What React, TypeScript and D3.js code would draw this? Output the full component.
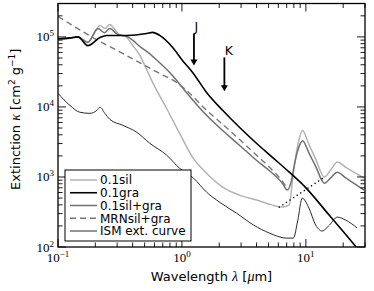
import React, { useEffect } from "react";
import * as d3 from "d3";

// ---------- data ----------
// 0.1gra (black)
const graWl = [0.1, 0.125, 0.145, 0.174, 0.218, 0.248, 0.359, 0.52, 0.58, 0.662, 0.842, 1.01, 1.22, 1.58, 2.13, 2.91, 3.99, 5.37, 7.35, 9.71, 15.4, 25.4, 32];
const graK = [9.4e4, 9.7e4, 1.0e5, 7.5e4, 9.8e4, 1.05e5, 1.05e5, 1.12e5, 1.16e5, 1.05e5, 7.06e4, 4.61e4, 3.11e4, 1.61e4, 8.95e3, 5.12e3, 3.03e3, 1.91e3, 1.17e3, 740, 286, 100, 60];

// 0.1sil (light grey)
const silWl = [0.1, 0.125, 0.145, 0.174, 0.2, 0.218, 0.239, 0.262, 0.285, 0.304, 0.359, 0.4, 0.457, 0.52, 0.58, 0.753, 0.958, 1.22, 1.58, 2.13, 2.91, 3.99, 5.37, 6.46, 7.35, 7.8, 8.3, 8.8, 9.4, 10.6, 12, 14.1, 16, 17.9, 21, 25, 29.5];
const silK = [9.4e4, 9.6e4, 1.0e5, 8.5e4, 1.2e5, 1.45e5, 1.32e5, 1.5e5, 1.3e5, 1.12e5, 9.8e4, 7.6e4, 5.5e4, 3.4e4, 2.24e4, 9.5e3, 4.2e3, 1.91e3, 1.13e3, 716, 551, 468, 396, 372, 400, 900, 2000, 3400, 4600, 2900, 1800, 993, 1290, 1630, 1370, 1146, 961];

// 0.1sil+gra (mid grey)
const mixWl = [0.1, 0.125, 0.145, 0.174, 0.21, 0.237, 0.262, 0.304, 0.359, 0.4, 0.457, 0.52, 0.6, 0.842, 1.09, 1.58, 2.13, 2.91, 3.99, 5.37, 6.46, 7.1, 7.6, 8.2, 8.8, 9.4, 10.6, 12, 14.1, 16, 17.9, 21, 25, 29.5];
const mixK = [9.4e4, 9.6e4, 1.0e5, 8.3e4, 1.32e5, 1.15e5, 1.32e5, 1.08e5, 1.02e5, 9.0e4, 7.3e4, 6.2e4, 5.0e4, 2.8e4, 1.6e4, 7.6e3, 4.6e3, 2.84e3, 1.73e3, 1.13e3, 816, 650, 850, 1700, 2700, 3300, 2190, 1420, 816, 989, 1170, 970, 788, 649];

// MRNsil+gra (dashed)
const mrnWl = [0.1, 0.191, 0.359, 0.662, 0.906, 1.09, 1.58, 2.13, 2.91, 3.99, 5.37, 6.46, 7.1];
const mrnK = [1.96e5, 9.8e4, 5.4e4, 3.0e4, 2.24e4, 1.72e4, 8.95e3, 5.65e3, 3.45e3, 2.05e3, 1.25e3, 871, 680];

// ISM extinction curve
const ismWl = [0.1, 0.125, 0.15, 0.181, 0.206, 0.218, 0.239, 0.262, 0.333, 0.432, 0.55, 0.753, 0.958, 1.24, 1.58, 2.01, 2.75, 3.78, 5.08, 6.95, 7.93, 8.6, 9.35, 10.5, 12, 13.5, 15.5, 17.9, 21, 25.9];
const ismK = [1.56e4, 1.05e4, 8.4e3, 8.1e3, 8.95e3, 9.9e3, 8.1e3, 6.65e3, 5.47e3, 4.35e3, 3.03e3, 2.05e3, 1.33e3, 961, 607, 437, 305, 206, 158, 134, 134, 240, 499, 372, 206, 169, 206, 267, 242, 187];

// dotted continuum under the 10 micron feature
const dotWl = [6.1, 14.1];
const dotK = [370, 993];

// photometric band arrows
const bandNames = ["J", "K"];
const bandWl = [1.25, 2.2];
const bandTop = [1.12e5, 5.1e4];
const bandTip = [3.9e4, 1.67e4];

// axes
const xDomain = [0.1, 30];
const yDomain = [100, 3e5];
const xMajor = [0.1, 1, 10];
const xMajorExp = ["−1", "0", "1"];
const yMajor = [1e2, 1e3, 1e4, 1e5];
const yMajorExp = ["2", "3", "4", "5"];

const legendLabels = ["0.1sil", "0.1gra", "0.1sil+gra", "MRNsil+gra", "ISM ext. curve"];

// ---------- layout ----------
const W = 374, H = 291;
const L = 58, R = 365, T = 3.5, B = 247;

const x = d3.scaleLog().domain(xDomain).range([L, R]);
const y = d3.scaleLog().domain(yDomain).range([B, T]);

const zip = (a: number[], b: number[]) => a.map((v, i) => [v, b[i]] as [number, number]);
const line = d3.line<[number, number]>().x(d => x(d[0])).y(d => y(d[1])).curve(d3.curveMonotoneX);
const straight = d3.line<[number, number]>().x(d => x(d[0])).y(d => y(d[1]));

const styles = [
  { color: "#b3b3b3", w: 1.5, dash: "" },
  { color: "#000000", w: 1.6, dash: "" },
  { color: "#707070", w: 1.5, dash: "" },
  { color: "#777777", w: 1.4, dash: "6,4" },
  { color: "#2a2a2a", w: 1.0, dash: "" },
];
const seriesData = [zip(silWl, silK), zip(graWl, graK), zip(mixWl, mixK), zip(mrnWl, mrnK), zip(ismWl, ismK)];

export default function App() {
  useEffect(() => {
    document.body.style.margin = "0";
  }, []);

  const xAll = x.ticks().filter(t => t >= xDomain[0] && t <= xDomain[1]);
  const yAll = y.ticks().filter(t => t >= yDomain[0] && t <= yDomain[1]);
  const isMajor = (t: number) => Math.abs(Math.log10(t) - Math.round(Math.log10(t))) < 1e-6;

  const serif = "'Liberation Serif', 'DejaVu Serif', serif";
  const sans = "'DejaVu Sans', sans-serif";
  const drawOrder = [4, 0, 2, 3, 1];

  return (
    <svg width={W} height={H} style={{ position: "absolute", left: 0, top: 0, background: "#fff" }}>
      <defs>
        <clipPath id="plot">
          <rect x={L} y={T} width={R - L} height={B - T} />
        </clipPath>
      </defs>

      <g clipPath="url(#plot)" fill="none">
        {drawOrder.map(i => (
          <path key={i} d={line(seriesData[i]) || ""} stroke={styles[i].color} strokeWidth={styles[i].w}
            strokeDasharray={styles[i].dash || undefined} strokeLinejoin="round" />
        ))}
        <path d={straight(zip(dotWl, dotK)) || ""} stroke="#000" strokeWidth={1.5} strokeDasharray="0.1,4.2" strokeLinecap="round" />
      </g>

      {/* band arrows */}
      {bandNames.map((n, i) => {
        const bx = x(bandWl[i]);
        const y0 = y(bandTop[i]);
        const y1 = y(bandTip[i]);
        return (
          <g key={n}>
            <line x1={bx} x2={bx} y1={y0} y2={y1 - 5} stroke="#000" strokeWidth={1.8} />
            <path d={`M${bx - 3.5},${y1 - 6}L${bx + 3.5},${y1 - 6}L${bx},${y1}Z`} fill="#000" />
            <text x={bx + (i === 0 ? 0.5 : 0.5)} y={y0 - 2} fontFamily={sans} fontSize={12.5} fill="#000">{n}</text>
          </g>
        );
      })}

      {/* ticks */}
      <g stroke="#000" strokeWidth={0.9}>
        {xAll.map((t, i) => {
          const len = isMajor(t) ? 8 : 4.5;
          return (
            <g key={"x" + i}>
              <line x1={x(t)} x2={x(t)} y1={B} y2={B - len} />
              <line x1={x(t)} x2={x(t)} y1={T} y2={T + len} />
            </g>
          );
        })}
        {yAll.map((t, i) => {
          const len = isMajor(t) ? 8 : 4.5;
          return (
            <g key={"y" + i}>
              <line x1={L} x2={L + len} y1={y(t)} y2={y(t)} />
              <line x1={R} x2={R - len} y1={y(t)} y2={y(t)} />
            </g>
          );
        })}
      </g>
      <rect x={L} y={T} width={R - L} height={B - T} fill="none" stroke="#000" strokeWidth={1.3} />

      {/* tick labels */}
      {xMajor.map((t, i) => (
        <text key={"xl" + i} x={x(t)} y={262} textAnchor="middle" fontFamily={serif} fontSize={13} fill="#000">
          10<tspan dy={-5} fontSize={9}>{xMajorExp[i]}</tspan>
        </text>
      ))}
      {yMajor.map((t, i) => (
        <text key={"yl" + i} x={54} y={y(t) + 4.5} textAnchor="end" fontFamily={serif} fontSize={13} fill="#000">
          10<tspan dy={-5} fontSize={9}>{yMajorExp[i]}</tspan>
        </text>
      ))}

      {/* axis labels */}
      <text x={(L + R) / 2} y={281} textAnchor="middle" fontFamily={sans} fontSize={13} fill="#000">
        Wavelength <tspan fontFamily={serif} fontStyle="italic" fontSize={14}>λ</tspan> [<tspan fontFamily={serif} fontStyle="italic" fontSize={14}>μ</tspan>m]
      </text>
      <text transform={`translate(20,${(T + B) / 2 - 6}) rotate(-90)`} textAnchor="middle" fontFamily={sans} fontSize={13} fill="#000">
        Extinction <tspan fontFamily={serif} fontStyle="italic" fontSize={14}>κ</tspan>  [cm<tspan dy={-5} fontSize={9}>2</tspan><tspan dy={5}>  g</tspan><tspan dy={-5} fontSize={9}>−1</tspan><tspan dy={5}>]</tspan>
      </text>

      {/* legend */}
      <rect x={65} y={170} width={126} height={71} fill="#fff" stroke="#000" strokeWidth={1} />
      {legendLabels.map((lab, i) => {
        const ly = 180 + i * 12.75;
        return (
          <g key={lab}>
            <line x1={70} x2={97} y1={ly} y2={ly} stroke={styles[i].color} strokeWidth={styles[i].w}
              strokeDasharray={styles[i].dash || undefined} />
            <text x={100} y={ly + 4.3} fontFamily={sans} fontSize={12} fill="#000">{lab}</text>
          </g>
        );
      })}
    </svg>
  );
}
